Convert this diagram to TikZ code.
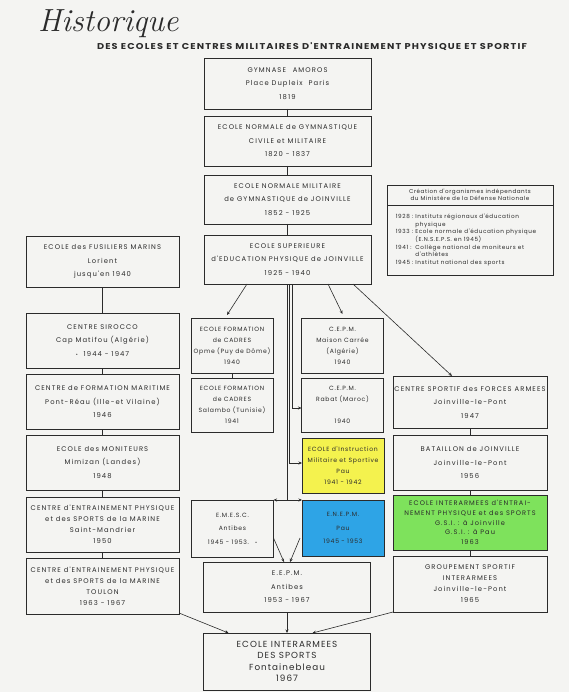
\documentclass[tikz,border=0pt]{standalone}
\usepackage{fontspec}
\usetikzlibrary{arrows.meta,calc}
\newfontfamily\boxfont{Poppins}[LetterSpace=16]
\newfontfamily\narrowfont{Poppins}[LetterSpace=12]
\newfontfamily\creafont{Poppins}[LetterSpace=10]
\newfontfamily\subfont{Poppins}[LetterSpace=12]
\definecolor{ink}{HTML}{2B2B2B}
\definecolor{bg}{HTML}{F4F4F2}
\definecolor{yelfill}{HTML}{F4F24E}
\definecolor{blufill}{HTML}{2EA4E6}
\definecolor{grnfill}{HTML}{7EE25C}
\begin{document}
\begin{tikzpicture}[x=1pt,y=-1pt,
  every node/.style={inner sep=0pt,outer sep=0pt},
  box/.style={draw=ink,line width=0.75pt,align=center,text=ink},
  lthree/.style={font=\boxfont\fontsize{6.8}{13.5}\selectfont},
  lfour/.style={font=\boxfont\fontsize{6.8}{11}\selectfont},
  nthree/.style={font=\narrowfont\fontsize{6.1}{13.5}\selectfont},
  nfour/.style={font=\narrowfont\fontsize{6.1}{11}\selectfont},
  lfive/.style={font=\boxfont\fontsize{6.6}{9.8}\selectfont},
  wide/.style={minimum width=167},
  side/.style={minimum width=153},
  rcol/.style={minimum width=154},
  narrow/.style={minimum width=82},
  link/.style={draw=ink,line width=0.6pt},
  arr/.style={link,-{Stealth[length=3.5pt,width=3pt]}},
  darr/.style={link,{Stealth[length=3.5pt,width=3pt]}-{Stealth[length=3.5pt,width=3pt]}}]
\useasboundingbox (0,0) rectangle (569,692);
\fill[bg] (0,0) rectangle (569,692);

% titles
\node[anchor=base west,text=ink,font=\itshape\fontsize{32}{32}\selectfont] (title) at (38,32) {Historique};
\node[anchor=base west,text=ink] (subtitle) at (97,50)
  {\resizebox{430pt}{6.8pt}{\subfont\bfseries DES ECOLES ET CENTRES MILITAIRES D'ENTRAINEMENT PHYSIQUE ET SPORTIF}};

% central column
\node[box,lthree,wide,minimum height=51] (gym) at (287.5,83.5) {GYMNASE\quad AMOROS\\Place Dupleix\ \ Paris\\1819};
\node[box,lthree,wide,minimum height=50] (eng) at (287.5,141) {ECOLE NORMALE de GYMNASTIQUE\\CIVILE et MILITAIRE\\1820 - 1837};
\node[box,lthree,wide,minimum height=49] (enm) at (287.5,199.5) {ECOLE NORMALE MILITAIRE\\de GYMNASTIQUE de JOINVILLE\\1852 - 1925};
\node[box,lthree,wide,minimum height=49] (esup) at (287.5,259.5) {ECOLE SUPERIEURE\\d'EDUCATION PHYSIQUE de JOINVILLE\\1925 - 1940};

% creation box
\node[box,minimum width=166,minimum height=20,font=\creafont\fontsize{5.6}{7}\selectfont] (creah) at (470,195)
  {Création d'organismes indépendants\\du Ministère de la Défense Nationale};
\node[box,minimum width=166,minimum height=70,anchor=north,font=\creafont\fontsize{5.7}{7.7}\selectfont] (creab) at (creah.south)
  {\renewcommand{\arraystretch}{1}\begin{tabular}{@{}l@{\hspace{2pt}}l@{}}
   1928 : & Instituts régionaux d'éducation\\
          & physique\\
   1933 : & Ecole normale d'éducation physique\\
          & (E.N.S.E.P.S. en 1945)\\
   1941 : & Collège national de moniteurs et\\
          & d'athlètes\\
   1945 : & Institut national des sports
  \end{tabular}\hspace*{8pt}};

% left column
\node[box,lthree,side,minimum height=51] (fus) at (102.5,261.5) {ECOLE des FUSILIERS MARINS\\Lorient\\jusqu'en 1940};
\node[box,lthree,side,minimum height=55] (sir) at (102.5,340.5) {CENTRE SIROCCO\\Cap Matifou (Algérie)\\{\tiny\textbullet}\ \ 1944 - 1947};
\node[box,lthree,side,minimum height=55] (form) at (102.5,401.5) {CENTRE de FORMATION MARITIME\\Pont-Réau (Ille-et Vilaine)\\1946};
\node[box,lthree,side,minimum height=55] (mon) at (102.5,462.5) {ECOLE des MONITEURS\\Mimizan (Landes)\\1948};
\node[box,lfour,side,minimum height=55] (cepsm) at (102.5,524.5) {CENTRE d'ENTRAINEMENT PHYSIQUE\\et des SPORTS de la MARINE\\Saint-Mandrier\\1950};
\node[box,lfour,side,minimum height=56] (toul) at (102.5,586) {CENTRE d'ENTRAINEMENT PHYSIQUE\\et des SPORTS de la MARINE\\TOULON\\1963 - 1967};

% middle columns
\node[box,nfour,narrow,minimum height=55] (opme) at (232,345.5) {ECOLE FORMATION\\de CADRES\\Opme (Puy de Dôme)\\1940};
\node[box,nfour,narrow,minimum height=54] (sal) at (232,405) {ECOLE FORMATION\\de CADRES\\Salambo (Tunisie)\\1941};
\node[box,nfour,narrow,minimum height=55] (cepma) at (342.5,345.5) {C.E.P.M.\\Maison Carrée\\(Algérie)\\1940};
\node[box,nfour,narrow,minimum height=54] (rabat) at (342.5,405) {C.E.P.M.\\Rabat (Maroc)\\\strut\\1940};
\node[box,nfour,narrow,minimum height=55,fill=yelfill] (eims) at (343,465.5) {ECOLE d'Instruction\\Militaire et Sportive\\Pau\\1941 - 1942};
\node[box,nthree,narrow,minimum height=57] (emesc) at (232.5,528.5) {E.M.E.S.C.\\Antibes\\1945 - 1953.\quad{\tiny\textbullet}};
\node[box,nthree,narrow,minimum height=56,fill=blufill] (enepm) at (343,528) {E.N.E.P.M.\\Pau\\1945 - 1953};
\node[box,lthree,wide,minimum height=50] (eepm) at (287,587) {E.E.P.M.\\Antibes\\1953 - 1967};
\node[box,wide,minimum height=57,font=\narrowfont\fontsize{8.8}{11.5}\selectfont] (eis) at (287,661.5) {ECOLE INTERARMEES\\DES SPORTS\\Fontainebleau\\1967};

% right column
\node[box,lthree,rcol,minimum height=52] (csfa) at (470,402) {CENTRE SPORTIF des FORCES ARMEES\\Joinville-le-Pont\\1947};
\node[box,lthree,rcol,minimum height=55] (bat) at (470,462.5) {BATAILLON de JOINVILLE\\Joinville-le-Pont\\1956};
\node[box,lfive,rcol,minimum height=55,fill=grnfill] (eiep) at (470,522.5) {ECOLE INTERARMEES d'ENTRAI-\\NEMENT PHYSIQUE et des SPORTS\\G.S.I. : à Joinville\\G.S.I. : à Pau\\1963};
\node[box,lfour,rcol,minimum height=56] (gsi) at (470,584) {GROUPEMENT SPORTIF\\INTERARMEES\\Joinville-le-Pont\\1965};

% connectors
\draw[link] (gym) -- (eng);
\draw[link] (eng) -- (enm);
\draw[link] (enm) -- (esup);
\draw[link] (fus) -- (sir);
\draw[link] (sir) -- (form);
\draw[link] (form) -- (mon);
\draw[link] (mon) -- (cepsm);
\draw[link] (cepsm) -- (toul);
\draw[link] (opme) -- (sal);
\draw[link] (csfa) -- (bat);
\draw[link] (bat) -- (eiep);
\draw[link] (eiep) -- (gsi);

\draw[arr] ([xshift=43pt]esup.south west) -- ([xshift=-5pt,yshift=3pt]opme.north);
\draw[arr] ([xshift=124pt]esup.south west) -- ([yshift=4pt]cepma.north);
\draw[arr] ([xshift=149pt]esup.south west) -- ([xshift=59pt]csfa.north west);

\draw[arr] ([xshift=4.5pt]esup.south) |- ([yshift=-3pt]rabat.west);
\draw[arr] ([xshift=2pt]esup.south) |- ([yshift=2.5pt]eims.west);
\coordinate (split) at (esup.south |- emesc.north);
\draw[link] ([xshift=-0.5pt]esup.south) -- ([xshift=-0.5pt]split);
\draw[darr] (emesc.north east) -- (enepm.north west);

\draw[arr] ([yshift=-9.5pt]emesc.east) -- ([xshift=-3pt]eepm.north);
\draw[arr] ([yshift=-10pt,xshift=-2pt]enepm.west) -- ([xshift=3pt]eepm.north);

\draw[arr] (eepm) -- (eis);
\draw[arr] ([yshift=1pt]toul.south east) -- ([xshift=25pt]eis.north west);
\draw[arr] (gsi.south west) -- ([xshift=-58pt]eis.north east);
\end{tikzpicture}
\end{document}
